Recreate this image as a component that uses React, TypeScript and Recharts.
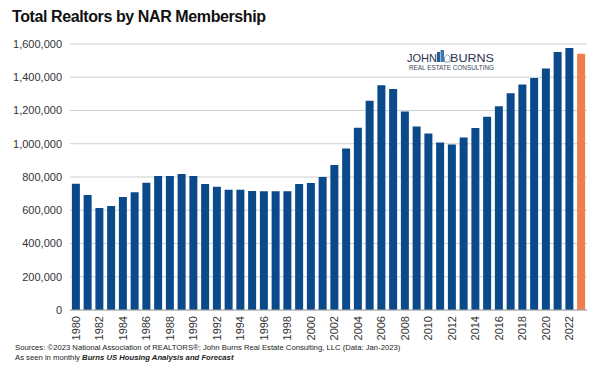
import { BarChart, Bar, XAxis, YAxis, CartesianGrid, Cell } from 'recharts';

const years = [
  '1980', '1981', '1982', '1983', '1984', '1985', '1986', '1987', '1988', '1989',
  '1990', '1991', '1992', '1993', '1994', '1995', '1996', '1997', '1998', '1999',
  '2000', '2001', '2002', '2003', '2004', '2005', '2006', '2007', '2008', '2009',
  '2010', '2011', '2012', '2013', '2014', '2015', '2016', '2017', '2018', '2019',
  '2020', '2021', '2022', '2023',
];

const members = [
  760000, 692000, 614000, 626000, 680000, 708000, 766000, 806000, 806000, 818000,
  806000, 758000, 742000, 724000, 724000, 716000, 714000, 714000, 714000, 758000,
  764000, 800000, 872000, 972000, 1096000, 1258000, 1352000, 1330000, 1194000, 1104000,
  1062000, 1008000, 996000, 1038000, 1094000, 1162000, 1226000, 1304000, 1356000, 1396000,
  1452000, 1552000, 1576000, 1542000,
];

const yTicks = [0, 200000, 400000, 600000, 800000, 1000000, 1200000, 1400000, 1600000];

const BLUE = '#0B4A8A';
const ORANGE = '#EF7D4E';

const chartData = years.map((year, i) => ({ year, total: members[i] }));

const YearTick = (props: any) => {
  const { x, y, payload } = props;
  return (
    <text
      transform={`translate(${x},${y + 6}) rotate(-90)`}
      textAnchor="end"
      dy="0.35em"
      fontSize={11}
      fill="#333"
      fontFamily="'Liberation Sans', Arial, sans-serif"
    >
      {payload.value}
    </text>
  );
};

const Logo = () => (
  <svg width={120} height={36} style={styles.logo}>
    <text x={2} y={21.5} fontSize={11.5} fill="#2a3550" textLength={30} lengthAdjust="spacingAndGlyphs">JOHN</text>
    <rect x={32} y={12} width={3} height={10} fill="#2d5d8f" />
    <rect x={35.5} y={10} width={3.5} height={12} fill="#3d78b0" />
    <path d="M39.5 17 L42.5 14.5 L45 17 L45 22 L39.5 22 Z" fill="none" stroke="#6b8fb5" strokeWidth={0.8} />
    <text x={45} y={21.5} fontSize={11.5} fill="#2a3550" textLength={44} lengthAdjust="spacingAndGlyphs">BURNS</text>
    <text x={4} y={30} fontSize={7.2} fill="#3a4560" textLength={85} lengthAdjust="spacingAndGlyphs">REAL ESTATE CONSULTING</text>
  </svg>
);

const App = () => {
  return (
    <div style={styles.container}>
      <div style={styles.title}>Total Realtors by NAR Membership</div>
      <BarChart
        width={600}
        height={371}
        data={chartData}
        margin={{ top: 44, right: 13, bottom: 0, left: 0 }}
        barCategoryGap="16%"
      >
        <CartesianGrid vertical={false} stroke="#CFCFCF" />
        <XAxis
          dataKey="year"
          interval={1}
          height={61}
          tickLine={false}
          tickSize={0}
          tickMargin={0}
          axisLine={{ stroke: '#A6A6A6' }}
          tick={<YearTick />}
        />
        <YAxis
          width={70}
          domain={[0, 1600000]}
          ticks={yTicks}
          axisLine={false}
          tickLine={false}
          tick={{ fontSize: 11, fill: '#333', fontFamily: "'Liberation Sans', Arial, sans-serif" }}
          tickFormatter={(v: number) => v.toLocaleString('en-US')}
        />
        <Bar dataKey="total" isAnimationActive={false}>
          {chartData.map((d, i) => (
            <Cell key={d.year} fill={i === chartData.length - 1 ? ORANGE : BLUE} />
          ))}
        </Bar>
      </BarChart>
      <Logo />
      <div style={styles.footer}>
        <div>Sources: ©2023 National Association of REALTORS®; John Burns Real Estate Consulting, LLC (Data: Jan-2023)</div>
        <div>
          As seen in monthly <b><i>Burns US Housing Analysis and Forecast</i></b>
        </div>
      </div>
    </div>
  );
};

const styles: any = {
  container: {
    position: 'absolute', left: 0, top: 0, width: 600, height: 371, background: '#fff',
    fontFamily: "'Liberation Sans', Arial, sans-serif", overflow: 'hidden',
  },
  title: {
    position: 'absolute', left: 12, top: 8, fontSize: 16, fontWeight: 'bold', color: '#111',
    letterSpacing: '-0.4px', whiteSpace: 'nowrap',
  },
  logo: { position: 'absolute', left: 405, top: 40 },
  footer: {
    position: 'absolute', left: 15, top: 343, fontSize: 7.7, lineHeight: '10px', color: '#222',
    whiteSpace: 'nowrap',
  },
};

export default App;
